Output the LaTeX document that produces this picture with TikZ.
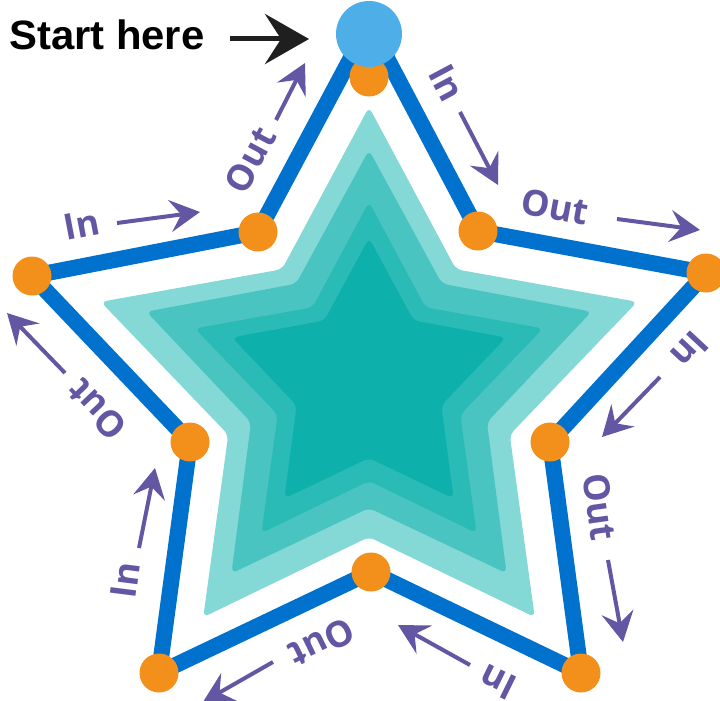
\documentclass[tikz,border=0pt]{standalone}
\usepackage{fontspec}
\setmainfont{Liberation Sans}
\newfontfamily\labfont{Open Sans}
\usetikzlibrary{arrows.meta}
\definecolor{lineblue}{RGB}{0,114,206}
\definecolor{startblue}{RGB}{77,174,232}
\definecolor{dotorange}{RGB}{242,144,27}
\definecolor{labpurple}{RGB}{99,86,163}
\definecolor{tealA}{RGB}{132,216,213}
\definecolor{tealB}{RGB}{73,196,192}
\definecolor{tealC}{RGB}{42,187,182}
\definecolor{tealD}{RGB}{14,176,172}
\begin{document}
\begin{tikzpicture}[x=1pt,y=-1pt,
  pathline/.style={draw=lineblue, line width=16pt, line join=round},
  dot/.style={circle, fill=dotorange, minimum size=39pt, inner sep=0pt},
  startdot/.style={circle, fill=startblue, minimum size=66pt, inner sep=0pt},
  lab/.style={text=labpurple, inner sep=0pt, font=\labfont\bfseries\fontsize{36}{36}\selectfont},
  parrow/.style={draw=labpurple, line width=4pt, -{Stealth[length=30pt,width=32pt,inset=11pt]}},
  barrow/.style={draw=black!88, line width=5pt, -{Stealth[length=44pt,width=50pt,inset=16pt]}},
  starlayer/.style={rounded corners=6pt}
]
\useasboundingbox (0,0) rectangle (720,701);
\clip (0,0) rectangle (720,701);

% nested teal stars
\foreach \cy/\R/\r/\col in {389/282/148/tealA, 384/234/124/tealB, 385/183/96/tealC, 382/144/76/tealD}{
  \fill[\col, starlayer, shift={(369,\cy)}]
    (-90:\R) -- (-54:\r) -- (-18:\R) -- (18:\r) -- (54:\R) -- (90:\r)
    -- (126:\R) -- (162:\r) -- (198:\R) -- (234:\r) -- cycle;
}

% path points
\coordinate (apex) at (369,24);
\coordinate (p1) at (478,231);
\coordinate (p2) at (706,273);
\coordinate (p3) at (550,442);
\coordinate (p4) at (581,673);
\coordinate (p5) at (371,572);
\coordinate (p6) at (159,673);
\coordinate (p7) at (190,442);
\coordinate (p8) at (32,276);
\coordinate (p9) at (258,232);

\draw[pathline] (apex) -- (p1) -- (p2) -- (p3) -- (p4) -- (p5) -- (p6) -- (p7) -- (p8) -- (p9) -- cycle;

\node[dot] (top) at (369,77) {};
\foreach \i in {1,...,9}{ \node[dot] (d\i) at (p\i) {}; }
\node[startdot] (start) at (369,34) {};

% start label and arrow
\node[anchor=base west, inner sep=0pt, font=\bfseries\fontsize{41}{41}\selectfont] (starttext) at (9,50) {\scalebox{1.02}[1]{Start here}};
\coordinate (bs) at (230,39);
\coordinate (be) at (309,39);
\draw[barrow] (bs) -- (be);

% labels
\node[lab, rotate=61.7] (l1) at (250,160) {Out};
\node[lab, rotate=-61.9] (l2) at (447,83) {In};
\node[lab, rotate=-10.4] (l3) at (555,207) {Out};
\node[lab, rotate=-133] (l4) at (690,350) {In};
\node[lab, rotate=-82] (l5) at (600,507) {Out};
\node[lab, rotate=153.8] (l6) at (498,682) {In};
\node[lab, rotate=-153.9] (l7) at (322,643) {Out};
\node[lab, rotate=82.7] (l8) at (125,580) {In};
\node[lab, rotate=133.6] (l9) at (97,410) {Out};
\node[lab, rotate=10.8] (l10) at (82,225) {In};

% direction arrows
\foreach \n/\sx/\sy/\ex/\ey in {1/276/120/305/63, 2/460/112/498/185, 3/617/219/700/230,
  4/660/377/602/437, 5/608/560/623/642, 6/470/665/398/625, 7/273/662/203/702,
  8/139/548/155/468, 9/65/373/7/313, 10/117/223/200/212}{
  \coordinate (as\n) at (\sx,\sy);
  \coordinate (ae\n) at (\ex,\ey);
  \draw[parrow] (as\n) -- (ae\n);
}
\end{tikzpicture}
\end{document}
